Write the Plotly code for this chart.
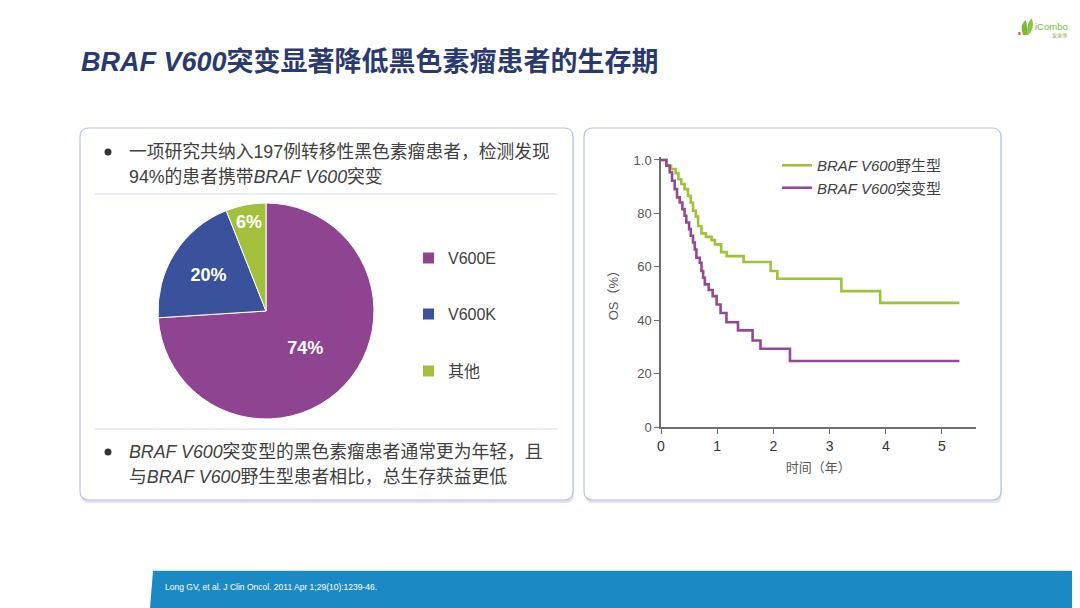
import plotly.graph_objects as go

# The page body adds an 8 px margin, so the figure is 8 px smaller and all
# positions are expressed in window pixels shifted by that margin.
OFF = 8
W, H = 1080 - OFF, 608 - OFF


def fx(x):
    return (x - OFF) / W


def fy(y):
    return 1 - (y - OFF) / H


# ---------------- data ----------------
pie_labels = ["V600E", "V600K", "其他"]
pie_values = [74, 20, 6]
pie_colors = ["#8E4490", "#3A519C", "#A3C03C"]

wt_time = [0, 0.10, 0.18, 0.26, 0.31, 0.36, 0.42, 0.48, 0.53, 0.57, 0.62, 0.66, 0.72,
           0.80, 0.90, 0.96, 1.07, 1.17, 1.47, 1.95, 2.07, 3.21, 3.90, 5.31]
wt_os = [100, 97.8, 96.6, 95.0, 92.8, 91.0, 89.1, 86.5, 84.0, 81.0, 78.8, 75.3, 72.5,
         71.2, 70.0, 68.4, 65.5, 64.0, 61.8, 58.4, 55.5, 50.9, 46.5, 46.5]

mut_time = [0, 0.095, 0.155, 0.196, 0.244, 0.285, 0.333, 0.38, 0.42, 0.45, 0.50, 0.53,
            0.57, 0.60, 0.63, 0.69, 0.72, 0.75, 0.78, 0.85, 0.92, 0.99, 1.06, 1.165,
            1.37, 1.63, 1.77, 2.295, 5.31]
mut_os = [100, 97.9, 95.4, 92.2, 89.1, 86.0, 84.1, 81.6, 79.1, 76.6, 74.1, 71.6, 69.1,
          66.5, 63.4, 61.5, 58.4, 55.9, 53.4, 51.3, 49.0, 45.9, 42.7, 39.2, 36.2, 32.4,
          29.3, 24.7, 24.7]

km_names = ["<i>BRAF V600</i>野生型", "<i>BRAF V600</i>突变型"]
km_colors = ["#9DC23B", "#944A93"]

x_tickvals = [0, 1, 2, 3, 4, 5]
y_tickvals = [0, 20, 40, 60, 80, 100]
y_ticktext = ["0", "20", "40", "60", "80", "1.0"]

title_text = "<i>BRAF V600</i>突变显著降低黑色素瘤患者的生存期"
bullet1 = ["一项研究共纳入197例转移性黑色素瘤患者，检测发现",
           "94%的患者携带<i>BRAF V600</i>突变"]
bullet2 = ["<i>BRAF V600</i>突变型的黑色素瘤患者通常更为年轻，且",
           "与<i>BRAF V600</i>野生型患者相比，总生存获益更低"]
footnote = "Long GV, et al. J Clin Oncol. 2011 Apr 1;29(10):1239-46."

FONT = "Liberation Sans, Arial, Noto Sans CJK SC, sans-serif"
TXT = "#404040"

fig = go.Figure()

fig.add_trace(go.Pie(
    labels=pie_labels, values=pie_values, sort=False, direction="clockwise",
    rotation=0, marker=dict(colors=pie_colors, line=dict(color="white", width=1)),
    texttemplate="%{value}%", textposition="inside",
    insidetextorientation="horizontal",
    textfont=dict(color="white", size=18, family=FONT, weight="bold"),
    domain=dict(x=[fx(158), fx(374)], y=[fy(419), fy(203)]),
    showlegend=False, hoverinfo="label+percent", automargin=False,
))

for t, s, n, c in [(wt_time, wt_os, km_names[0], km_colors[0]),
                   (mut_time, mut_os, km_names[1], km_colors[1])]:
    fig.add_trace(go.Scatter(x=t, y=s, name=n, mode="lines", line_shape="hv",
                             line=dict(color=c, width=2.6), xaxis="x", yaxis="y"))

shapes = []


def rrect(x0, y0, x1, y1, r):
    rx, ry = r / W, r / H
    X0, X1, Y0, Y1 = fx(x0), fx(x1), fy(y1), fy(y0)
    return (f"M{X0+rx},{Y0} L{X1-rx},{Y0} Q{X1},{Y0} {X1},{Y0+ry} "
            f"L{X1},{Y1-ry} Q{X1},{Y1} {X1-rx},{Y1} L{X0+rx},{Y1} "
            f"Q{X0},{Y1} {X0},{Y1-ry} L{X0},{Y0+ry} Q{X0},{Y0} {X0+rx},{Y0} Z")


for (x0, y0, x1, y1) in [(80, 128, 573, 500), (584, 128, 1001, 500)]:
    shapes.append(dict(type="path", path=rrect(x0 + 1, y0 + 2, x1 + 1, y1 + 3, 9),
                       xref="paper", yref="paper", fillcolor="#DDE2F3",
                       line=dict(width=0), layer="below"))
    shapes.append(dict(type="path", path=rrect(x0, y0, x1, y1, 9), xref="paper",
                       yref="paper", fillcolor="white",
                       line=dict(color="#B9C2E8", width=1.2), layer="below"))

for yy in [194, 429]:
    shapes.append(dict(type="line", xref="paper", yref="paper", x0=fx(95), x1=fx(557),
                       y0=fy(yy), y1=fy(yy), line=dict(color="#D3D9EF", width=1)))

# footer band
shapes.append(dict(type="path", xref="paper", yref="paper",
                   path=f"M{fx(153)},{fy(571)} L1,{fy(571)} L1,0 L{fx(150)},0 Z",
                   fillcolor="#1B8AC4", line=dict(width=0)))
shapes.append(dict(type="line", xref="paper", yref="paper", x0=fx(153), x1=1,
                   y0=fy(570.5), y1=fy(570.5), line=dict(color="#CFE5F2", width=1)))

# bullets (filled dots)
for yy in [152, 452]:
    shapes.append(dict(type="circle", xref="paper", yref="paper",
                       x0=fx(104.5), x1=fx(111.5), y0=fy(yy + 3.5), y1=fy(yy - 3.5),
                       fillcolor="#333333", line=dict(width=0)))

# pie legend squares
annotations = []
leg_y = [258, 314, 371]
for lab, col, yy in zip(pie_labels, pie_colors, leg_y):
    shapes.append(dict(type="rect", xref="paper", yref="paper", x0=fx(423), x1=fx(434),
                       y0=fy(yy + 5.5), y1=fy(yy - 5.5), fillcolor=col, line=dict(width=0)))
    annotations.append(dict(text=lab, x=fx(446), y=fy(yy), xref="paper", yref="paper",
                            xanchor="left", yanchor="middle", showarrow=False,
                            font=dict(size=16, color=TXT, family=FONT)))

# logo (kept inside the visible area)
LX = -7
shapes.append(dict(type="path", xref="paper", yref="paper",
                   path=f"M{fx(1030+LX)},{fy(35)} Q{fx(1026+LX)},{fy(24)} {fx(1033+LX)},{fy(20)} "
                        f"L{fx(1035+LX)},{fy(35)} Z",
                   fillcolor="#7DB83A", line=dict(width=0)))
shapes.append(dict(type="path", xref="paper", yref="paper",
                   path=f"M{fx(1035+LX)},{fy(35)} Q{fx(1042+LX)},{fy(30)} {fx(1039+LX)},{fy(18)} "
                        f"Q{fx(1032+LX)},{fy(24)} {fx(1035+LX)},{fy(35)} Z",
                   fillcolor="#8DC63F", line=dict(width=0)))
shapes.append(dict(type="rect", xref="paper", yref="paper", x0=fx(1025.5+LX), x1=fx(1027.5+LX),
                   y0=fy(35), y1=fy(32), fillcolor="#E0403A", line=dict(width=0)))
annotations.append(dict(text="iCombo", x=fx(1040+LX), y=fy(27), xref="paper", yref="paper",
                        xanchor="left", yanchor="middle", showarrow=False,
                        font=dict(size=9.5, color="#7DB83A", family=FONT)))
annotations.append(dict(text="爱康博", x=fx(1069), y=fy(35), xref="paper", yref="paper",
                        xanchor="right", yanchor="middle", showarrow=False,
                        font=dict(size=5, color="#8FB85A", family=FONT)))

# title
annotations.append(dict(text=f"<b>{title_text}</b>", x=fx(79), y=fy(62), xref="paper",
                        yref="paper", xanchor="left", yanchor="middle", showarrow=False,
                        font=dict(size=27, color="#2B3A6E", family=FONT)))

# bullet texts
for lines, ys in [(bullet1, [152, 177]), (bullet2, [452, 477])]:
    for ln, yy in zip(lines, ys):
        annotations.append(dict(text=ln, x=fx(127), y=fy(yy), xref="paper", yref="paper",
                                xanchor="left", yanchor="middle", showarrow=False,
                                font=dict(size=17.8, color=TXT, family=FONT)))

annotations.append(dict(text=footnote, x=fx(163), y=fy(587), xref="paper", yref="paper",
                        xanchor="left", yanchor="middle", showarrow=False,
                        font=dict(size=8.5, color="white", family=FONT)))

fig.update_layout(
    width=W, height=H, autosize=False, margin=dict(l=0, r=0, t=0, b=0, pad=0),
    paper_bgcolor="white", plot_bgcolor="rgba(0,0,0,0)",
    font=dict(family=FONT, color=TXT),
    shapes=shapes, annotations=annotations,
    xaxis=dict(domain=[fx(661), fx(975.7)], range=[0, 5.6], tickvals=x_tickvals,
               automargin=False,
               showline=True, linecolor="#6E6E6E", linewidth=1.5, ticks="outside",
               ticklen=5, tickcolor="#6E6E6E", tickwidth=1.3, showgrid=False,
               zeroline=False, tickfont=dict(size=14, color="#333333"),
               title=dict(text="时间（年）", font=dict(size=13, color="#555555"),
                          standoff=10)),
    yaxis=dict(domain=[fy(427), fy(157.3)], range=[0, 101], tickvals=y_tickvals,
               automargin=False,
               ticktext=y_ticktext, showline=True, linecolor="#6E6E6E", linewidth=1.5,
               ticks="outside", ticklen=5, tickcolor="#6E6E6E", tickwidth=1.3,
               showgrid=False, zeroline=False, tickfont=dict(size=13, color="#555555"),
               title=dict(text="OS（%）", font=dict(size=13, color="#555555"),
                          standoff=12)),
    legend=dict(x=fx(777), y=fy(149), xanchor="left", yanchor="top",
                bgcolor="rgba(0,0,0,0)", font=dict(size=15, color=TXT, family=FONT),
                itemwidth=30, tracegroupgap=0),
)

fig.write_html("out.html")
